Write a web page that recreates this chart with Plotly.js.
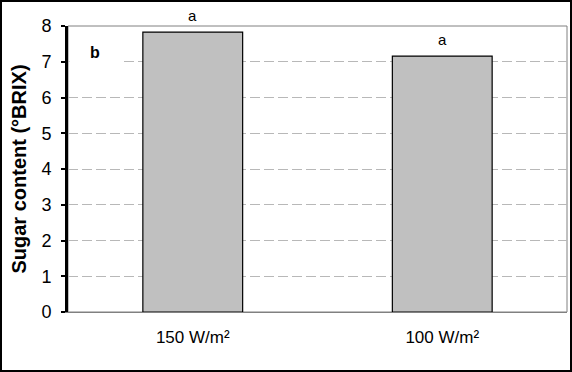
<!DOCTYPE html>
<html>
<head>
<meta charset="utf-8">
<script src="https://cdn.plot.ly/plotly-3.0.1.min.js"></script>
<style>
html,body{margin:0;padding:0;background:#fff;}
#wrap{position:relative;width:572px;height:372px;}
#chart{width:572px;height:372px;}
#frame{position:absolute;left:0;top:0;width:572px;height:372px;box-sizing:border-box;border:2px solid #000;pointer-events:none;}
</style>
</head>
<body>
<div id="wrap"><div id="chart"></div><div id="frame"></div></div>
<script>
var categories = ["150 W/m²", "100 W/m²"];
var sugarValues = [7.83, 7.16];
var letters = ["a", "a"];
var yTicks = [0, 1, 2, 3, 4, 5, 6, 7, 8];
var panelLabel = "b";

var font = "Arial, 'Liberation Sans', sans-serif";

var trace = {
  type: "bar",
  x: categories,
  y: sugarValues,
  marker: {color: "#c0c0c0", line: {color: "#000", width: 1.2}},
  hoverinfo: "none"
};

var annotations = categories.map(function (c, i) {
  return {
    x: c, y: sugarValues[i], xref: "x", yref: "y",
    text: letters[i], showarrow: false,
    yanchor: "bottom", yshift: 6,
    font: {family: font, size: 15, color: "#000"}
  };
});
annotations.push({
  xref: "paper", yref: "y", x: 0.054, y: 7.27,
  text: "<b>" + panelLabel + "</b>", showarrow: false,
  xanchor: "center", yanchor: "middle",
  bgcolor: "#fff", width: 48, height: 26,
  font: {family: font, size: 16, color: "#000"}
});

var layout = {
  width: 572, height: 372,
  margin: {l: 68, r: 5, t: 26, b: 60},
  paper_bgcolor: "#fff", plot_bgcolor: "#fff",
  bargap: 0.6,
  showlegend: false,
  font: {family: font, color: "#000"},
  xaxis: {
    type: "category",
    showline: true, linecolor: "#808080", linewidth: 1,
    showgrid: false, ticks: "",
    tickfont: {family: font, size: 17, color: "#000"},
    ticklabelstandoff: 10
  },
  yaxis: {
    range: [0, 8], tickvals: yTicks,
    showline: true, linecolor: "#000", linewidth: 3,
    ticks: "outside", ticklen: 4, tickwidth: 2, tickcolor: "#000",
    showgrid: true, gridcolor: "#b8b8b8", griddash: "10px,4px", gridwidth: 1,
    zeroline: false,
    tickfont: {family: font, size: 18, color: "#000"},
    ticklabelstandoff: 6,
    title: {text: "<b>Sugar content (°BRIX)</b>", font: {family: font, size: 20, color: "#000"}, standoff: 10}
  },
  shapes: [{
    type: "rect", xref: "paper", yref: "paper", x0: 0, x1: 1, y0: 0, y1: 1,
    line: {color: "#808080", width: 1}, layer: "below"
  }],
  annotations: annotations
};

Plotly.newPlot("chart", [trace], layout, {displayModeBar: false, staticPlot: true});
</script>
</body>
</html>
